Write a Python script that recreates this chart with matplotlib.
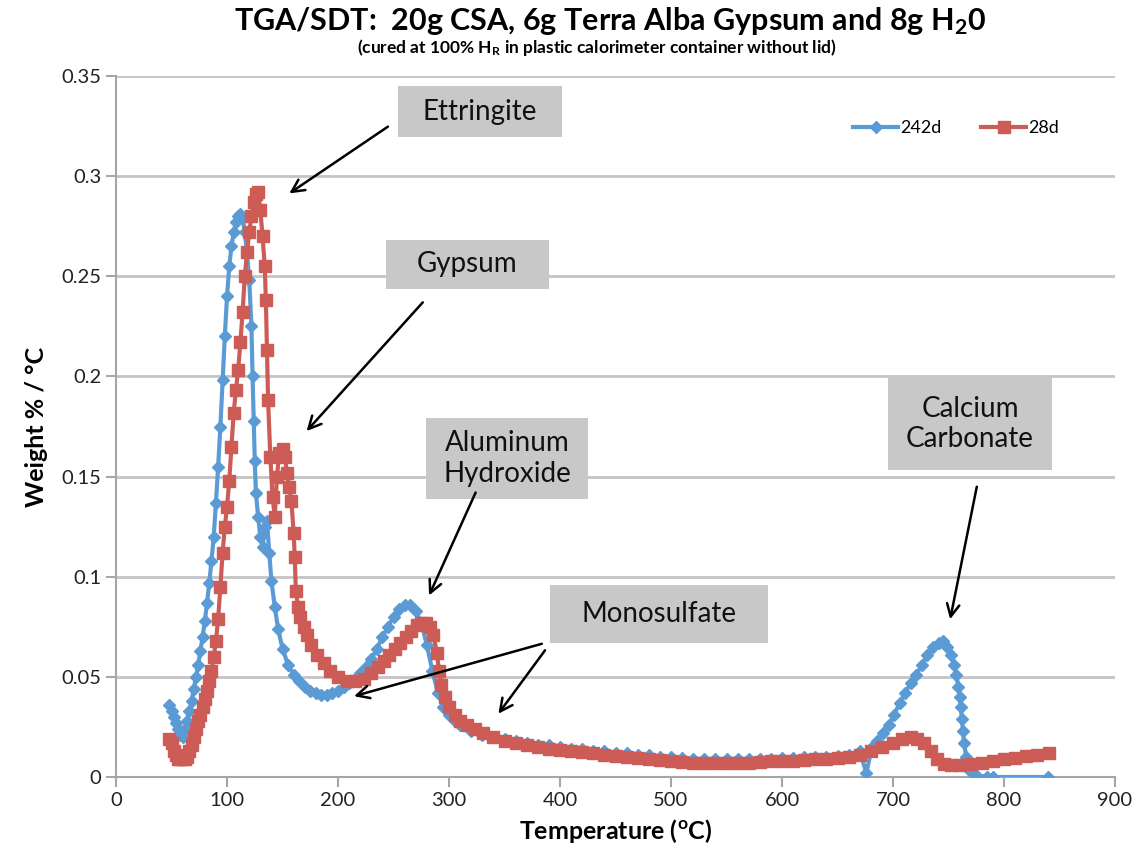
import matplotlib
matplotlib.use("Agg")
import matplotlib.pyplot as plt
from matplotlib.patches import Rectangle

plt.rcParams['font.family'] = ['Lato', 'DejaVu Sans']
plt.rcParams['mathtext.fontset'] = 'custom'
plt.rcParams['mathtext.rm'] = 'Lato'
plt.rcParams['mathtext.bf'] = 'Lato:bold'

# 242 d series (temperature C, weight %/C)
temp_242 = [48, 50, 52, 54, 56, 58, 60, 62, 64, 66, 68, 70, 72, 74, 76, 78, 80, 82, 84, 86,
            88, 90, 92, 94, 96, 98, 100, 102, 104, 106, 108, 110, 112, 114, 116, 118, 120,
            122, 123, 124, 125, 126, 128, 130, 132, 134, 136, 138, 140, 143, 146, 150, 155,
            160, 165, 170, 175, 180, 185, 190, 195, 200, 205, 210, 215, 220, 225, 230, 235,
            240, 245, 250, 255, 260, 265, 270, 275, 280, 285, 290, 295, 300, 305, 310, 320,
            330, 340, 350, 360, 370, 380, 390, 400, 410, 420, 430, 440, 450, 460, 470, 480,
            490, 500, 510, 520, 530, 540, 550, 560, 570, 580, 590, 600, 610, 620, 630, 640,
            650, 660, 670, 676, 681, 686, 691, 696, 701, 706, 711, 716, 721, 726, 731, 736,
            741, 745, 749, 752, 755, 757, 759, 760, 761, 762, 763, 764, 766, 769, 775, 785,
            790, 840]
dtg_242 = [0.036, 0.033, 0.030, 0.027, 0.024, 0.021, 0.020, 0.024, 0.028, 0.033, 0.038,
           0.044, 0.050, 0.056, 0.063, 0.070, 0.078, 0.087, 0.097, 0.108, 0.120, 0.137,
           0.155, 0.175, 0.198, 0.220, 0.240, 0.255, 0.265, 0.272, 0.277, 0.280, 0.281,
           0.279, 0.272, 0.262, 0.248, 0.225, 0.200, 0.178, 0.158, 0.142, 0.130, 0.120,
           0.115, 0.125, 0.128, 0.112, 0.098, 0.085, 0.074, 0.064, 0.056, 0.051, 0.048,
           0.045, 0.043, 0.042, 0.041, 0.041, 0.042, 0.043, 0.045, 0.047, 0.049, 0.052,
           0.055, 0.059, 0.064, 0.070, 0.075, 0.080, 0.084, 0.086, 0.086, 0.083, 0.077,
           0.066, 0.053, 0.042, 0.035, 0.031, 0.028, 0.026, 0.023, 0.021, 0.020, 0.019,
           0.018, 0.017, 0.016, 0.016, 0.015, 0.014, 0.014, 0.013, 0.013, 0.012, 0.012,
           0.011, 0.011, 0.010, 0.010, 0.0095, 0.009, 0.009, 0.009, 0.009, 0.009, 0.009,
           0.009, 0.009, 0.0095, 0.0095, 0.010, 0.010, 0.010, 0.0105, 0.011, 0.013, 0.002,
           0.015, 0.018, 0.022, 0.026, 0.031, 0.037, 0.042, 0.047, 0.051, 0.056, 0.061,
           0.065, 0.067, 0.068, 0.065, 0.061, 0.056, 0.051, 0.045, 0.040, 0.035, 0.029,
           0.023, 0.017, 0.010, 0.003, 0.001, 0.0, 0.0, 0.0]

# 28 d series
temp_28 = [48, 50, 52, 54, 56, 58, 60, 62, 64, 66, 68, 70, 72, 74, 76, 78, 80, 82, 84, 86,
           88, 90, 92, 94, 96, 98, 100, 102, 104, 106, 108, 110, 112, 114, 116, 118, 120,
           122, 124, 126, 128, 130, 132, 134, 135, 136, 137, 139, 141, 143, 145, 147, 150,
           152, 154, 156, 158, 160, 161, 162, 164, 166, 169, 172, 176, 181, 187, 193, 200,
           208, 215, 223, 230, 236, 241, 246, 251, 256, 261, 266, 271, 275, 279, 283, 286,
           289, 291, 293, 296, 300, 305, 310, 316, 323, 331, 340, 350, 360, 370, 380, 390,
           400, 410, 420, 430, 440, 450, 460, 470, 480, 490, 500, 510, 520, 530, 540, 550,
           560, 570, 580, 590, 600, 610, 620, 630, 640, 650, 660, 670, 680, 690, 700, 708,
           716, 722, 728, 734, 740, 746, 752, 760, 770, 780, 790, 800, 810, 820, 830, 841]
dtg_28 = [0.019, 0.017, 0.013, 0.011, 0.009, 0.009, 0.009, 0.009, 0.010, 0.013, 0.016,
          0.020, 0.024, 0.028, 0.031, 0.035, 0.039, 0.043, 0.048, 0.053, 0.060, 0.068,
          0.079, 0.095, 0.112, 0.125, 0.135, 0.148, 0.165, 0.182, 0.193, 0.203, 0.217,
          0.232, 0.250, 0.262, 0.272, 0.280, 0.287, 0.291, 0.292, 0.283, 0.270, 0.255,
          0.238, 0.213, 0.188, 0.160, 0.140, 0.130, 0.150, 0.162, 0.164, 0.160, 0.152,
          0.145, 0.138, 0.122, 0.110, 0.093, 0.085, 0.080, 0.075, 0.071, 0.066, 0.061,
          0.057, 0.053, 0.050, 0.048, 0.048, 0.049, 0.052, 0.055, 0.058, 0.061, 0.064,
          0.067, 0.070, 0.073, 0.076, 0.077, 0.077, 0.075, 0.071, 0.062, 0.053, 0.046,
          0.040, 0.035, 0.031, 0.028, 0.026, 0.024, 0.022, 0.020, 0.018, 0.017, 0.016,
          0.015, 0.014, 0.0135, 0.013, 0.0125, 0.012, 0.011, 0.0105, 0.010, 0.0095, 0.009,
          0.0085, 0.008, 0.0075, 0.007, 0.007, 0.007, 0.007, 0.007, 0.0072, 0.0075, 0.008,
          0.008, 0.0082, 0.0085, 0.0088, 0.009, 0.0095, 0.010, 0.011, 0.013, 0.015, 0.017,
          0.019, 0.020, 0.019, 0.017, 0.013, 0.009, 0.0065, 0.006, 0.006, 0.0065, 0.007,
          0.008, 0.009, 0.0095, 0.0105, 0.011, 0.012]

# annotation labels: (text, box centre, box size, [(arrow tail, arrow head)])
labels = [
    ("Ettringite", (328, 0.3322), (148, 0.0255), [((247, 0.3255), (154, 0.2906))]),
    ("Gypsum", (316.7, 0.2559), (147, 0.0245), [((278, 0.238), (170, 0.1717))]),
    ("Aluminum\nHydroxide", (352.3, 0.159), (146, 0.0404), [((325, 0.1433), (281, 0.0894))]),
    ("Monosulfate", (489.2, 0.0814), (196, 0.029), [((386, 0.0669), (212, 0.040)),
                                                    ((388, 0.0644), (343, 0.0305))]),
    ("Calcium\nCarbonate", (769.4, 0.1762), (148, 0.046), [((776, 0.1463), (751, 0.0774))]),
]

blue = '#5B9BD5'
red = '#CD5C57'

fig = plt.figure(figsize=(11.41, 8.57), dpi=100)
ax = fig.add_axes([0.1017, 0.0933, 0.8755, 0.818])

ax.plot(temp_242, dtg_242, color=blue, lw=3, marker='D', ms=6.5, mec=blue, label='242d', zorder=3)
ax.plot(temp_28, dtg_28, color=red, lw=3, marker='s', ms=8.5, mec=red, label='28d', zorder=4)

ax.set_xlim(0, 900)
ax.set_ylim(0, 0.35)
ax.set_xticks(range(0, 901, 100))
ax.set_yticks([0, 0.05, 0.1, 0.15, 0.2, 0.25, 0.3, 0.35])
ax.set_yticklabels(['0', '0.05', '0.1', '0.15', '0.2', '0.25', '0.3', '0.35'])
ax.grid(axis='y', color='#c4c4c4', lw=2)
ax.set_axisbelow(True)
for s in ['top', 'right']:
    ax.spines[s].set_visible(False)
for s in ['left', 'bottom']:
    ax.spines[s].set_color('#a6a6a6')
    ax.spines[s].set_linewidth(1.5)
ax.tick_params(colors='#a6a6a6', width=1.5, length=7, labelsize=14.5, labelcolor='#222222')

ax.set_xlabel('Temperature ($\\mathbf{^{o}}$C)', fontsize=18, fontweight='bold', labelpad=6)
ax.set_ylabel('Weight % / °C', fontsize=18, fontweight='bold', labelpad=10)

fig.text(0.535, 0.975, 'TGA/SDT:  20g CSA, 6g Terra Alba Gypsum and 8g H$\\mathbf{_2}$0',
         ha='center', va='center', fontsize=22, fontweight='bold')
fig.text(0.523, 0.945, '(cured at 100% H$\\mathbf{_R}$ in plastic calorimeter container without lid)',
         ha='center', va='center', fontsize=12.5, fontweight='bold')

for text, centre, size, arrows in labels:
    ax.add_patch(Rectangle((centre[0] - size[0] / 2, centre[1] - size[1] / 2), size[0], size[1],
                           fc='#c8c8c8', ec='none', zorder=6))
    ax.text(centre[0], centre[1], text, ha='center', va='center', fontsize=20,
            color='#111111', linespacing=1.2, zorder=7)
    for tail, head in arrows:
        ax.annotate('', xy=head, xytext=tail,
                    arrowprops=dict(arrowstyle='->,head_length=0.9,head_width=0.45',
                                    color='black', lw=1.8), zorder=6)

ax.legend(loc='upper right', bbox_to_anchor=(0.96, 0.96), ncol=2, frameon=False,
          fontsize=13, handlelength=2.5, columnspacing=2.2, handletextpad=0.1)

plt.savefig('out.png')
